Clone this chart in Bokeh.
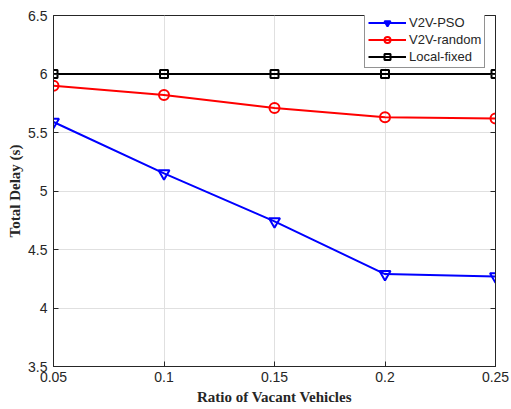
from bokeh.plotting import figure
from bokeh.models import LinearAxis, Legend, LegendItem, FixedTicker, Range1d
from bokeh.embed import file_html
from bokeh.resources import INLINE

ratio = [0.05, 0.10, 0.15, 0.20, 0.25]
v2v_pso = [5.59, 5.15, 4.74, 4.29, 4.27]
v2v_random = [5.90, 5.82, 5.71, 5.63, 5.62]
local_fixed = [6.0, 6.0, 6.0, 6.0, 6.0]
x_ticks = [0.05, 0.10, 0.15, 0.20, 0.25]
x_labels = ["0.05", "0.1", "0.15", "0.2", "0.25"]
y_ticks = [3.5, 4.0, 4.5, 5.0, 5.5, 6.0, 6.5]
y_labels = ["3.5", "4", "4.5", "5", "5.5", "6", "6.5"]

p = figure(width=511, height=409, output_backend="svg", toolbar_location=None,
           x_range=Range1d(0.05, 0.25), y_range=Range1d(3.5, 6.5),
           min_border_left=53, min_border_right=16, min_border_top=15, min_border_bottom=43)
p.background_fill_color = "white"
p.border_fill_color = "white"
p.outline_line_color = "#262626"
p.outline_line_width = 1

tick_font = "Liberation Sans"
for ax in (p.xaxis[0], p.yaxis[0]):
    ax.major_tick_in = 5
    ax.major_tick_out = 0
    ax.minor_tick_line_color = None
    ax.axis_line_color = "#262626"
    ax.major_tick_line_color = "#262626"
    ax.major_label_text_font = tick_font
    ax.major_label_text_font_size = "14px"
    ax.major_label_text_color = "#262626"
    ax.axis_label_text_font = "Liberation Serif"
    ax.axis_label_text_font_style = "bold"
    ax.axis_label_text_font_size = "15px"
    ax.axis_label_text_color = "#262626"

p.xaxis.ticker = FixedTicker(ticks=x_ticks)
p.yaxis.ticker = FixedTicker(ticks=y_ticks)
p.xaxis.major_label_overrides = dict(zip(x_ticks, x_labels))
p.yaxis.major_label_overrides = dict(zip(y_ticks, y_labels))
p.xaxis.axis_label = "Ratio of Vacant Vehicles"
p.yaxis.axis_label = "Total Delay (s)"
p.xaxis.major_label_standoff = 5
p.yaxis.major_label_standoff = 6
p.xaxis.axis_label_standoff = 4
p.yaxis.axis_label_standoff = 2

right = LinearAxis(ticker=FixedTicker(ticks=y_ticks), major_tick_in=5, major_tick_out=0,
                   minor_tick_line_color=None,
                   major_label_overrides={t: "" for t in y_ticks},
                   axis_line_color="#262626", major_tick_line_color="#262626")
p.add_layout(right, "right")

p.grid.grid_line_color = "#e0e0e0"
p.grid.grid_line_width = 1
p.xgrid.ticker = FixedTicker(ticks=x_ticks)
p.ygrid.ticker = FixedTicker(ticks=y_ticks)

l1 = p.line(ratio, v2v_pso, line_color="blue", line_width=2)
m1 = p.scatter(ratio, v2v_pso, marker="inverted_triangle", size=11, fill_color=None,
               line_color="blue", line_width=2)
l2 = p.line(ratio, v2v_random, line_color="red", line_width=2)
m2 = p.scatter(ratio, v2v_random, marker="circle", size=10, fill_color=None,
               line_color="red", line_width=2)
l3 = p.line(ratio, local_fixed, line_color="black", line_width=2)
m3 = p.scatter(ratio, local_fixed, marker="square", size=8, fill_color=None,
               line_color="black", line_width=2)

legend = Legend(items=[LegendItem(label="V2V-PSO", renderers=[l1, m1]),
                       LegendItem(label="V2V-random", renderers=[l2, m2]),
                       LegendItem(label="Local-fixed", renderers=[l3, m3])],
                location=(311, 298))
legend.label_text_font = tick_font
legend.label_text_font_size = "13px"
legend.label_text_color = "#262626"
legend.glyph_width = 38
legend.glyph_height = 15
legend.label_height = 15
legend.spacing = 2
legend.padding = 3
legend.margin = 0
legend.label_standoff = 3
legend.border_line_color = "#262626"
legend.border_line_width = 1
legend.background_fill_alpha = 1
p.add_layout(legend, "center")

open("out.html", "w").write(file_html(p, INLINE))
